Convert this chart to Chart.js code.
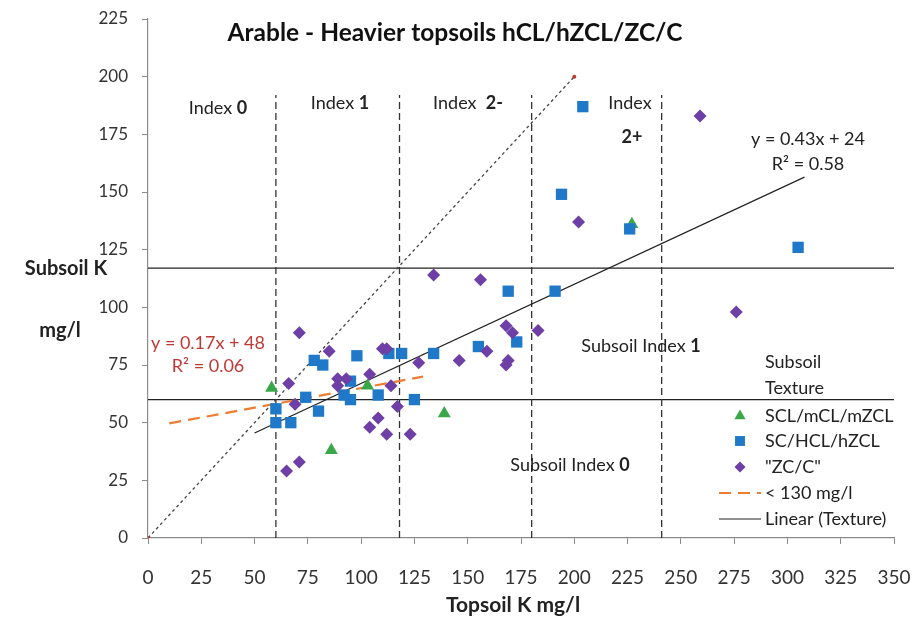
<!DOCTYPE html>
<html>
<head>
<meta charset="utf-8">
<script src="https://cdn.jsdelivr.net/npm/chart.js@4.4.0/dist/chart.umd.min.js"></script>
<style>
  body { margin: 0; background: #fff; }
  #wrap { width: 913px; height: 617px; }
</style>
</head>
<body>
<div id="wrap"><canvas id="kChart"></canvas></div>
<script>
// topsoil K (x) vs subsoil K (y), grouped by subsoil texture
const sclX = [58, 86, 103, 139, 227];
const sclY = [65, 38, 66, 54, 136];

const scX = [60, 60, 67, 74, 78, 80, 82, 92, 95, 95, 98, 108, 113, 119, 125, 134, 155, 169, 173, 191, 194, 204, 226, 305];
const scY = [56, 50, 50, 61, 77, 55, 75, 62, 60, 68, 79, 62, 80, 80, 60, 80, 83, 107, 85, 107, 149, 187, 134, 126];

const zcX = [65, 66, 69, 71, 71, 85, 89, 89, 93, 104, 104, 108, 110, 112, 112, 114, 117, 123, 127, 134, 146, 156, 159, 168, 168, 169, 171, 183, 202, 259, 276];
const zcY = [29, 67, 58, 89, 33, 81, 69, 66, 69, 71, 48, 52, 82, 82, 45, 66, 57, 45, 76, 114, 77, 112, 81, 92, 75, 77, 89, 90, 137, 183, 98];

// index boundaries
const topsoilIndexX = [60, 118, 180, 241];
const indexLineTop = 192;
const subsoilIndexY = [60, 117];

// 1:1 reference line
const oneToOneX = [0, 200];

// trendlines: [slope, intercept, xFrom, xTo]
const trendTexture = [0.43, 24, 50, 308];
const trendLow = [0.17, 48, 10, 129];

const xTicks = { min: 0, max: 350, step: 25 };
const yTicks = { min: 0, max: 225, step: 25 };

const GREEN = '#3aa84a';
const BLUE = '#1f78c8';
const PURPLE = '#6e3fa6';
const ORANGE = '#ed7d31';
const RED = '#bf3a35';
const FONT = 'Lato, "Open Sans", sans-serif';

const pts = (xs, ys) => xs.map((x, i) => ({ x: x, y: ys[i] }));
const trendPts = t => [{ x: t[2], y: t[0] * t[2] + t[1] }, { x: t[3], y: t[0] * t[3] + t[1] }];

const lineSet = (data, color, width, dash, order) => ({
  data: data, showLine: true, borderColor: color, borderWidth: width,
  borderDash: dash, pointRadius: 0, pointHoverRadius: 0, order: order
});

const datasets = [
  { label: '"ZC/C"', data: pts(zcX, zcY), pointStyle: 'rectRot', pointRadius: 6.5,
    backgroundColor: PURPLE, borderColor: PURPLE, borderWidth: 0, order: 1 },
  { label: 'SC/HCL/hZCL', data: pts(scX, scY), pointStyle: 'rect', pointRadius: 8,
    backgroundColor: BLUE, borderColor: BLUE, borderWidth: 0, order: 2 },
  { label: 'SCL/mCL/mZCL', data: pts(sclX, sclY), pointStyle: 'triangle', pointRadius: 7.5,
    backgroundColor: GREEN, borderColor: GREEN, borderWidth: 0, order: 3 },
  lineSet(trendPts(trendLow), ORANGE, 2.2, [12, 7], 4),
  lineSet(trendPts(trendTexture), '#222', 1.2, [], 5),
  Object.assign(lineSet(oneToOneX.map(v => ({ x: v, y: v })), '#444', 1.3, [3, 3], 6),
    { pointRadius: 2, pointBackgroundColor: RED, pointBorderWidth: 0 })
];
topsoilIndexX.forEach(x => {
  datasets.push(lineSet([{ x: x, y: 0 }, { x: x, y: indexLineTop }], '#333', 1.3, [7, 4], 7));
});
subsoilIndexY.forEach(y => {
  datasets.push(lineSet([{ x: xTicks.min, y: y }, { x: xTicks.max, y: y }], '#222', 1.2, [], 8));
});

// text with bold / normal runs
function runs(ctx, parts, x, y, size, align, color) {
  let w = 0;
  parts.forEach(p => {
    ctx.font = (p[1] ? 'bold ' : '') + size + 'px ' + FONT;
    w += ctx.measureText(p[0]).width;
  });
  let cx = align === 'center' ? x - w / 2 : (align === 'right' ? x - w : x);
  ctx.fillStyle = color || '#222';
  ctx.textAlign = 'left';
  ctx.textBaseline = 'middle';
  parts.forEach(p => {
    ctx.font = (p[1] ? 'bold ' : '') + size + 'px ' + FONT;
    ctx.fillText(p[0], cx, y);
    cx += ctx.measureText(p[0]).width;
  });
}

const annotations = {
  id: 'annotations',
  afterDraw(chart) {
    const ctx = chart.ctx;
    const fs = 18;
    ctx.save();
    runs(ctx, [['Arable - Heavier topsoils hCL/hZCL/ZC/C', true]], 455, 33, 24.5, 'center', '#111');
    runs(ctx, [['Index ', false], ['0', true]], 218, 108, fs, 'center');
    runs(ctx, [['Index ', false], ['1', true]], 340, 103, fs, 'center');
    runs(ctx, [['Index  ', false], ['2-', true]], 468, 103, fs, 'center');
    runs(ctx, [['Index', false]], 630, 103, fs, 'center');
    runs(ctx, [['2+', true]], 632, 137, fs, 'center');
    runs(ctx, [['y = 0.43x + 24', false]], 808, 139, fs, 'center');
    runs(ctx, [['R² = 0.58', false]], 808, 164, fs, 'center');
    runs(ctx, [['y = 0.17x + 48', false]], 208, 343, fs, 'center', RED);
    runs(ctx, [['R² = 0.06', false]], 208, 366, fs, 'center', RED);
    runs(ctx, [['Subsoil Index ', false], ['1', true]], 641, 346, fs, 'center');
    runs(ctx, [['Subsoil Index ', false], ['0', true]], 570, 465, fs, 'center');

    // axis titles
    runs(ctx, [['Subsoil K', true]], 66, 269, 20, 'center');
    runs(ctx, [['mg/l', true]], 60, 331, 20, 'center');
    runs(ctx, [['Topsoil K mg/l', true]], 513, 605, 21, 'center');

    // legend
    runs(ctx, [['Subsoil', false]], 765, 362, fs, 'left');
    runs(ctx, [['Texture', false]], 765, 388, fs, 'left');
    const items = [
      ['SCL/mCL/mZCL', 416, 'triangle', GREEN],
      ['SC/HCL/hZCL', 441, 'rect', BLUE],
      ['"ZC/C"', 467, 'rectRot', PURPLE]
    ];
    items.forEach(it => {
      ctx.fillStyle = it[3];
      ctx.strokeStyle = it[3];
      const r = it[2] === 'rect' ? 7 : (it[2] === 'triangle' ? 6.5 : 5.5);
      Chart.helpers.drawPoint(ctx, { pointStyle: it[2], radius: r, borderWidth: 0 }, 740, it[1]);
      runs(ctx, [[it[0], false]], 765, it[1], fs, 'left');
    });
    ctx.lineWidth = 2.2;
    ctx.strokeStyle = ORANGE;
    ctx.setLineDash([12, 7]);
    ctx.beginPath(); ctx.moveTo(719, 493); ctx.lineTo(761, 493); ctx.stroke();
    ctx.setLineDash([]);
    ctx.lineWidth = 1.2;
    ctx.strokeStyle = '#222';
    ctx.beginPath(); ctx.moveTo(719, 519); ctx.lineTo(761, 519); ctx.stroke();
    runs(ctx, [['< 130 mg/l', false]], 765, 493, fs, 'left');
    runs(ctx, [['Linear (Texture)', false]], 765, 519, fs, 'left');
    ctx.restore();
  }
};

new Chart(document.getElementById('kChart'), {
  type: 'scatter',
  data: { datasets: datasets },
  options: {
    responsive: true,
    maintainAspectRatio: false,
    animation: false,
    layout: { padding: { top: 19, right: 19, left: 0, bottom: 0 } },
    plugins: { legend: { display: false }, tooltip: { enabled: false } },
    scales: {
      x: {
        type: 'linear', min: xTicks.min, max: xTicks.max,
        afterFit: s => { s.height = 79; s.paddingLeft = 0; s.paddingRight = 0; },
        ticks: { stepSize: xTicks.step, padding: 22, color: '#333', font: { family: FONT, size: 19 } },
        grid: { drawOnChartArea: false, drawTicks: true, tickLength: 6, color: '#8a8a8a' },
        border: { display: true, color: '#8a8a8a', width: 1.2 }
      },
      y: {
        type: 'linear', min: yTicks.min, max: yTicks.max,
        afterFit: s => { s.width = 148; s.paddingTop = 0; s.paddingBottom = 0; },
        ticks: { stepSize: yTicks.step, padding: 14, color: '#333', font: { family: FONT, size: 17 } },
        grid: { drawOnChartArea: false, drawTicks: true, tickLength: 6, color: '#8a8a8a' },
        border: { display: true, color: '#8a8a8a', width: 1.2 }
      }
    }
  },
  plugins: [annotations]
});
</script>
</body>
</html>
